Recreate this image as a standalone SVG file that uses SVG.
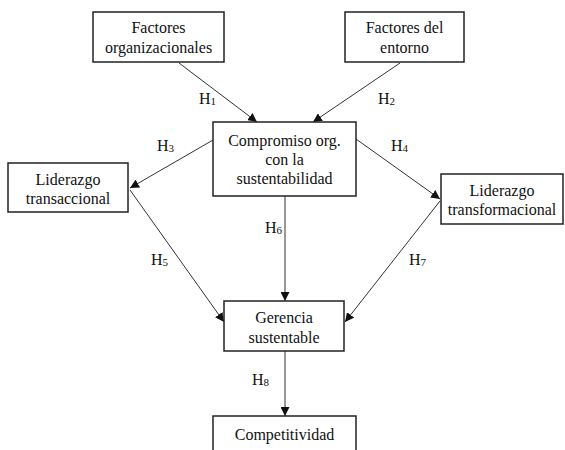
<svg xmlns="http://www.w3.org/2000/svg" width="565" height="450" viewBox="0 0 565 450">
<style>
.box{fill:#fff;stroke:#222;stroke-width:1.5}
.t{font-family:"Liberation Serif","Times New Roman",serif;font-size:16px;fill:#111;text-anchor:middle}
.lbl{font-family:"Liberation Serif","Times New Roman",serif;font-size:16px;fill:#111}
.sub{font-size:11px}
.edge{stroke:#333;stroke-width:1;fill:none;marker-end:url(#ah)}
</style>
<defs>
<marker id="ah" viewBox="0 0 10 10" refX="10" refY="5" markerWidth="9" markerHeight="9" markerUnits="userSpaceOnUse" orient="auto">
<path d="M0,0 L10,5 L0,10 z" fill="#111"/>
</marker>
</defs>
<rect width="565" height="450" fill="#fff"/>
<g id="connectors">
<line class="edge" x1="179" y1="63" x2="257" y2="122"/>
<line class="edge" x1="400" y1="63" x2="313" y2="122"/>
<line class="edge" x1="213" y1="140" x2="130" y2="188"/>
<line class="edge" x1="356" y1="139" x2="440" y2="199"/>
<line class="edge" x1="285" y1="196" x2="285" y2="301"/>
<line class="edge" x1="130" y1="190" x2="224" y2="322"/>
<line class="edge" x1="440" y1="201" x2="345" y2="322"/>
<line class="edge" x1="285" y1="351" x2="285" y2="416"/>
</g>
<g id="labels">
<text class="lbl" x="199" y="104">H<tspan class="sub" dy="1">1</tspan></text>
<text class="lbl" x="378" y="104">H<tspan class="sub" dy="1">2</tspan></text>
<text class="lbl" x="157" y="151">H<tspan class="sub" dy="1">3</tspan></text>
<text class="lbl" x="391" y="151">H<tspan class="sub" dy="1">4</tspan></text>
<text class="lbl" x="151" y="265">H<tspan class="sub" dy="1">5</tspan></text>
<text class="lbl" x="265" y="233">H<tspan class="sub" dy="1">6</tspan></text>
<text class="lbl" x="409" y="265">H<tspan class="sub" dy="1">7</tspan></text>
<text class="lbl" x="252" y="385">H<tspan class="sub" dy="1">8</tspan></text>
</g>
<g id="n-factores-org">
<rect class="box" x="93" y="12" width="131" height="50"/>
<text class="t" x="158.5" y="33">Factores</text>
<text class="t" x="158.5" y="53">organizacionales</text>
</g>
<g id="n-factores-entorno">
<rect class="box" x="345" y="12" width="119" height="50"/>
<text class="t" x="404.5" y="33">Factores del</text>
<text class="t" x="404.5" y="53">entorno</text>
</g>
<g id="n-compromiso">
<rect class="box" x="213" y="122" width="143" height="74"/>
<text class="t" x="284.5" y="146">Compromiso org.</text>
<text class="t" x="284.5" y="165">con la</text>
<text class="t" x="284.5" y="184">sustentabilidad</text>
</g>
<g id="n-transaccional">
<rect class="box" x="8" y="163" width="120" height="49"/>
<text class="t" x="68" y="185">Liderazgo</text>
<text class="t" x="68" y="204">transaccional</text>
</g>
<g id="n-transformacional">
<rect class="box" x="441" y="174" width="122" height="50"/>
<text class="t" x="502" y="196">Liderazgo</text>
<text class="t" x="502" y="215">transformacional</text>
</g>
<g id="n-gerencia">
<rect class="box" x="224" y="301" width="120" height="50"/>
<text class="t" x="284" y="323">Gerencia</text>
<text class="t" x="284" y="343">sustentable</text>
</g>
<g id="n-competitividad">
<rect class="box" x="213" y="416" width="143" height="50"/>
<text class="t" x="284.5" y="440">Competitividad</text>
</g>
</svg>
